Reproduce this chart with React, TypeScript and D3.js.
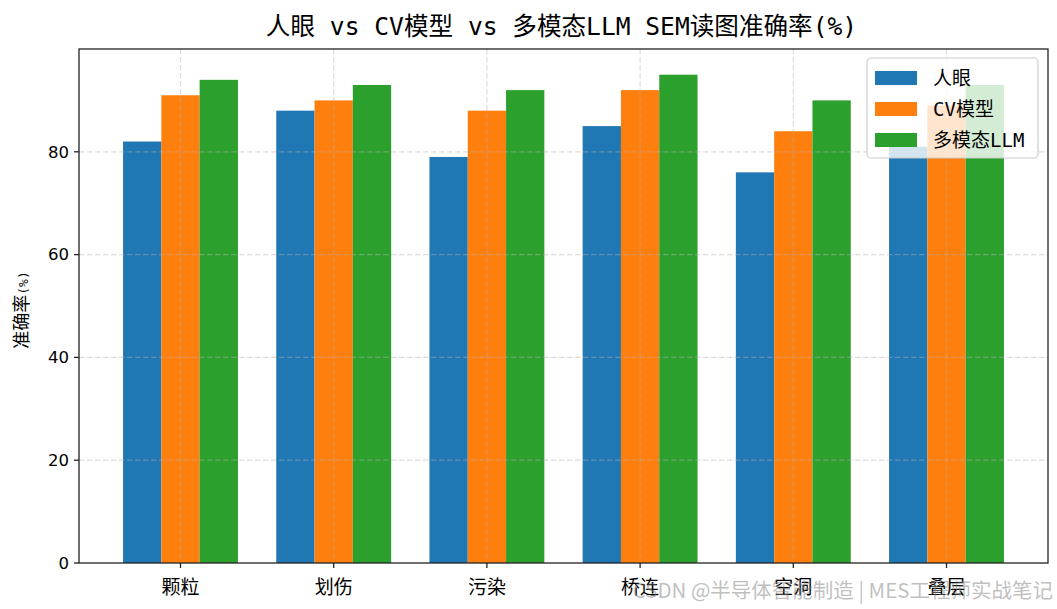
import * as d3 from "d3";

const categories = ["颗粒", "划伤", "污染", "桥连", "空洞", "叠层"];
const seriesNames = ["人眼", "CV模型", "多模态LLM"];
const humanEye = [82, 88, 79, 85, 76, 81];
const cvModel = [91, 90, 88, 92, 84, 89];
const multiLLM = [94, 93, 92, 95, 90, 93];
const yTicks = [0, 20, 40, 60, 80];

const colors = ["#1f77b4", "#ff7f0e", "#2ca02c"];
const series = [humanEye, cvModel, multiLLM];

const W = 1057;
const H = 609;
const left = 79, right = 1048, top = 49, bottom = 563;
const barW = 0.25;
const mono = "'DejaVu Sans Mono', 'Noto Sans CJK SC', sans-serif";
const cjk = "'Noto Sans CJK SC', 'DejaVu Sans', sans-serif";

function App() {
    const x = d3.scaleLinear()
        .domain([-1.5 * barW - 0.2875, categories.length - 1 + 1.5 * barW + 0.2875])
        .range([left, right]);
    const y = d3.scaleLinear().domain([0, 100]).range([bottom, top]);

    const legendX = 867, legendY = 58;

    return (
        <div style={{ position: "absolute", left: 0, top: 0 }}>
            <svg width={W} height={H} style={{ display: "block", background: "#fff" }}>
                {/* bars */}
                {series.map((vals, j) => (
                    <g key={j} fill={colors[j]}>
                        {vals.map((v, i) => {
                            const cx = i + (j - 1) * barW;
                            return (
                                <rect key={i}
                                    x={x(cx - barW / 2)}
                                    width={x(cx + barW / 2) - x(cx - barW / 2)}
                                    y={y(v)}
                                    height={y(0) - y(v)} />
                            );
                        })}
                    </g>
                ))}

                {/* grid */}
                <g stroke="#b0b0b0" strokeOpacity={0.45} strokeWidth={1.2} strokeDasharray="5.5,2.5">
                    {categories.map((c, i) => (
                        <line key={c} x1={x(i)} x2={x(i)} y1={top} y2={bottom} />
                    ))}
                    {yTicks.filter(t => t > 0).map(t => (
                        <line key={t} x1={left} x2={right} y1={y(t)} y2={y(t)} />
                    ))}
                </g>

                {/* frame */}
                <rect x={left} y={top} width={right - left} height={bottom - top}
                    fill="none" stroke="#222" strokeWidth={1.3} />

                {/* y axis */}
                <g fontFamily="'DejaVu Sans', sans-serif" fontSize={16.5} fill="#000">
                    {yTicks.map(t => (
                        <g key={t}>
                            <line x1={left - 5} x2={left} y1={y(t)} y2={y(t)} stroke="#222" strokeWidth={1.3} />
                            <text x={left - 10} y={y(t)} dy="0.35em" textAnchor="end">{t}</text>
                        </g>
                    ))}
                </g>

                {/* x axis */}
                <g fontFamily={cjk} fontSize={19} fill="#000">
                    {categories.map((c, i) => (
                        <g key={c}>
                            <line x1={x(i)} x2={x(i)} y1={bottom} y2={bottom + 5} stroke="#222" strokeWidth={1.3} />
                            <text x={x(i)} y={bottom + 31} textAnchor="middle">{c}</text>
                        </g>
                    ))}
                </g>

                {/* y label */}
                <text transform={`translate(28,${(top + bottom) / 2 + 4}) rotate(-90)`}
                    textAnchor="middle" fontFamily={mono} fontSize={18} fill="#000">
                    准确率<tspan fontSize={13}>(%)</tspan>
                </text>

                {/* title */}
                <text x={(left + right) / 2 - 2} y={35} textAnchor="middle"
                    fontFamily={mono} fontSize={24.6} fill="#000">
                    人眼 vs CV模型 vs 多模态LLM SEM读图准确率(%)
                </text>

                {/* legend */}
                <g>
                    <rect x={legendX} y={legendY} width={171} height={100} rx={4}
                        fill="#fff" fillOpacity={0.8} stroke="#cccccc" strokeWidth={1.2} />
                    {seriesNames.map((s, j) => (
                        <g key={s} transform={`translate(${legendX + 8},${legendY + 20 + j * 31})`}>
                            <rect x={0} y={-7} width={42} height={14} fill={colors[j]} />
                            <text x={58} y={0} dy="0.36em" fontFamily={mono} fontSize={19} fill="#000">{s}</text>
                        </g>
                    ))}
                </g>

                {/* watermark */}
                <text x={1053} y={598} textAnchor="end" fontFamily={cjk} fontSize={20.5}
                    fill="#808080" fillOpacity={0.5}>
                    CSDN @半导体智能制造 | MES工程师实战笔记
                </text>
            </svg>
        </div>
    );
}

export default App;
